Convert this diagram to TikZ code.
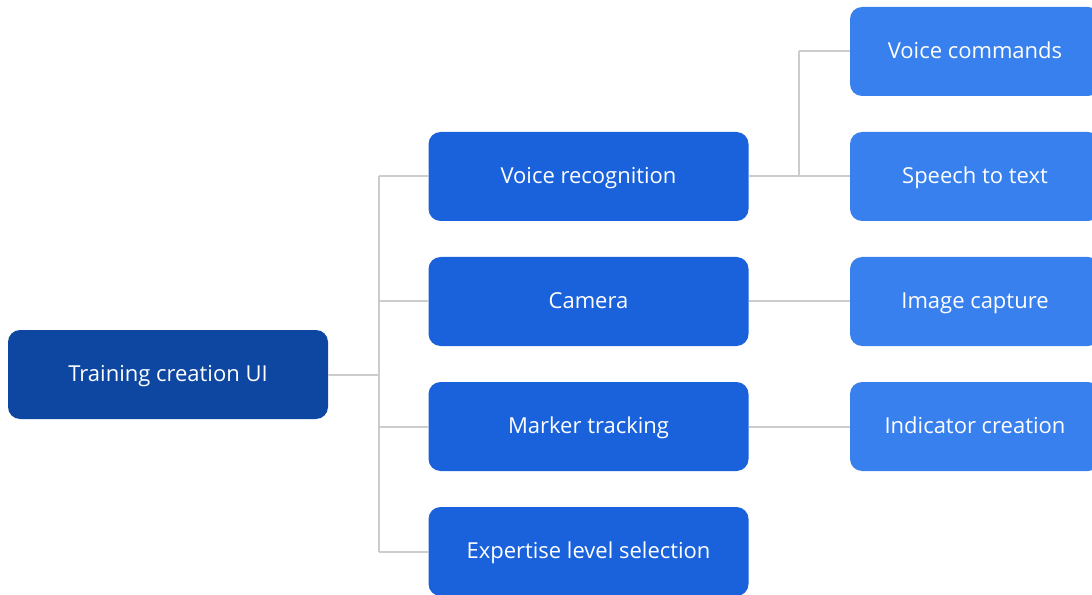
\documentclass[tikz,border=0pt]{standalone}
\usepackage{fontspec}
\setmainfont{Open Sans}
\usepackage{tikz}

\definecolor{rootblue}{HTML}{0E47A1}
\definecolor{midblue}{HTML}{1A62DB}
\definecolor{leafblue}{HTML}{3880EE}
\definecolor{linkgray}{HTML}{CCCCCC}

\tikzset{
  box/.style={rounded corners=9pt, minimum height=66.75pt, text=white,
    font=\fontsize{16.5}{19}\selectfont, inner sep=0pt,
    text height=0.98em, text depth=0pt},
  rootbox/.style={box, fill=rootblue, minimum width=240pt},
  midbox/.style={box, fill=midblue, minimum width=240pt},
  leafbox/.style={box, fill=leafblue, minimum width=187.5pt},
  link/.style={draw=linkgray, line width=1.5pt}
}

\begin{document}
\begin{tikzpicture}[x=0.75pt,y=0.75pt,yscale=-1,xscale=1]
\useasboundingbox (0,0) rectangle (1092,595);
\clip (0,0) rectangle (1092,595);

% Root
\node [rootbox] (root) at (168,374.5) {Training creation UI};

% Middle column
\node [midbox] (voice) at (588.5,176.5) {Voice recognition};
\node [midbox] (camera) at (588.5,301.5) {Camera};
\node [midbox] (marker) at (588.5,426.5) {Marker tracking};
\node [midbox] (expert) at (588.5,551.5) {Expertise level selection};

% Right column
\node [leafbox] (commands) at (975,51.5) {Voice commands};
\node [leafbox] (speech) at (975,176.5) {Speech to text};
\node [leafbox] (capture) at (975,301.5) {Image capture};
\node [leafbox] (indicator) at (975,426.5) {Indicator creation};

% Trunk points
\coordinate (trunk) at (379,374.5);
\coordinate (split) at (799,176.5);

% Links
\path [link] (root.east) -- (trunk);
\path [link] (trunk |- voice.west) -- (trunk |- expert.west);
\foreach \m in {voice,camera,marker,expert}
  \path [link] (trunk |- \m.west) -- (\m.west);
\path [link] (voice.east) -- (split);
\path [link] (split |- commands.west) -- (split);
\path [link] (split |- commands.west) -- (commands.west);
\path [link] (split) -- (speech.west);
\path [link] (camera.east) -- (capture.west);
\path [link] (marker.east) -- (indicator.west);

\end{tikzpicture}
\end{document}
